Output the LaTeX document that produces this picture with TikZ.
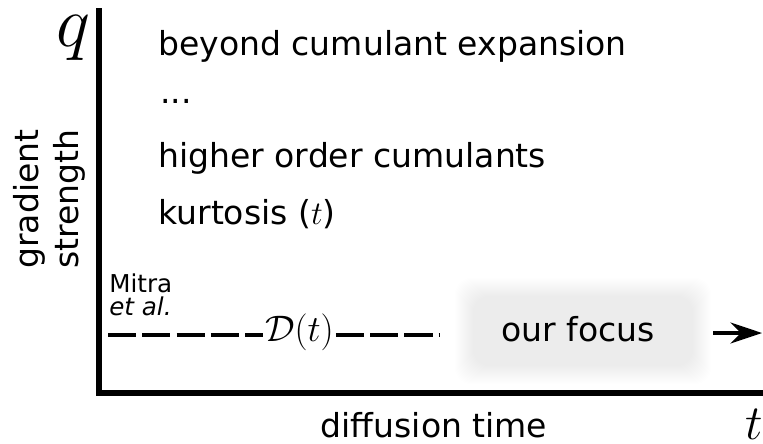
\RequirePackage{fix-cm}
\documentclass[tikz,border=0pt]{standalone}
\usepackage{fontspec}
\setmainfont{DejaVu Sans}
\usepackage{tikz}
\usetikzlibrary{arrows.meta}

\begin{document}
\begin{tikzpicture}[x=0.02cm, y=-0.02cm,
  label/.style={anchor=base west, inner sep=0pt, font=\fontsize{18.8}{22}\selectfont},
  small/.style={anchor=base west, inner sep=0pt, font=\fontsize{14}{16}\selectfont},
  axis/.style={line width=2.9pt, line join=miter},
  dashline/.style={line width=2pt, dash pattern=on 16pt off 3.5pt},
  arrow/.style={-{Stealth[length=18pt, width=12pt, inset=6pt]}, line width=2pt}
]
\useasboundingbox (0,0) rectangle (763,443);
% axes
\coordinate (qtop) at (99,8);
\coordinate (origin) at (99,393);
\coordinate (tend) at (763,393);
\draw[axis] (qtop) -- (origin) -- (tend);
\node[inner sep=0pt, font=\fontsize{41}{44}\selectfont] (qlabel) at (73,38) {$q$};
\node[inner sep=0pt, font=\fontsize{28}{30}\selectfont] (tlabel) at (754,424) {$t$};
\node[label, anchor=base] (xlabel) at (434,437) {diffusion time};
\node[align=center, rotate=90, inner sep=0pt, font=\fontsize{18.8}{22.8}\selectfont] (ylabel) at (49,199) {gradient\\strength};
% regimes
\node[label] (beyond) at (158,55) {beyond cumulant expansion};
\node[label] (dots) at (160,103) {...};
\node[label] (higher) at (158,167) {higher order cumulants};
\node[label] (kurt) at (158,224) {kurtosis ($t$)};
\node[small] (mitra) at (109,292) {Mitra};
\node[small, font=\fontsize{14}{16}\selectfont\itshape] (etal) at (109,315) {et al.};
% time line
\node[anchor=base west, inner sep=1pt, font=\fontsize{21}{24}\selectfont] (dt) at (263,341) {$\mathcal{D}(t)$};
\node[minimum width=4.4cm, minimum height=1.4cm, inner sep=0pt] (focus) at (583,331) {};
\foreach \s in {0,1,...,18}
  \fill[black, opacity=0.0035, rounded corners=10pt] ([shift={(-\s,-\s)}]focus.north west) rectangle ([shift={(\s,\s)}]focus.south east);
\node[label, anchor=base] (focustext) at (578,341) {our focus};
\coordinate (dstart) at (108,335);
\coordinate (dend) at (440,335);
\coordinate (tip) at (762,333);
\draw[dashline] (dstart) -- (dstart -| dt.west);
\draw[dashline] (dend -| dt.east) -- (dend);
\draw[arrow, shorten <=0.4cm] (focus.east |- tip) -- (tip);
\end{tikzpicture}
\end{document}
